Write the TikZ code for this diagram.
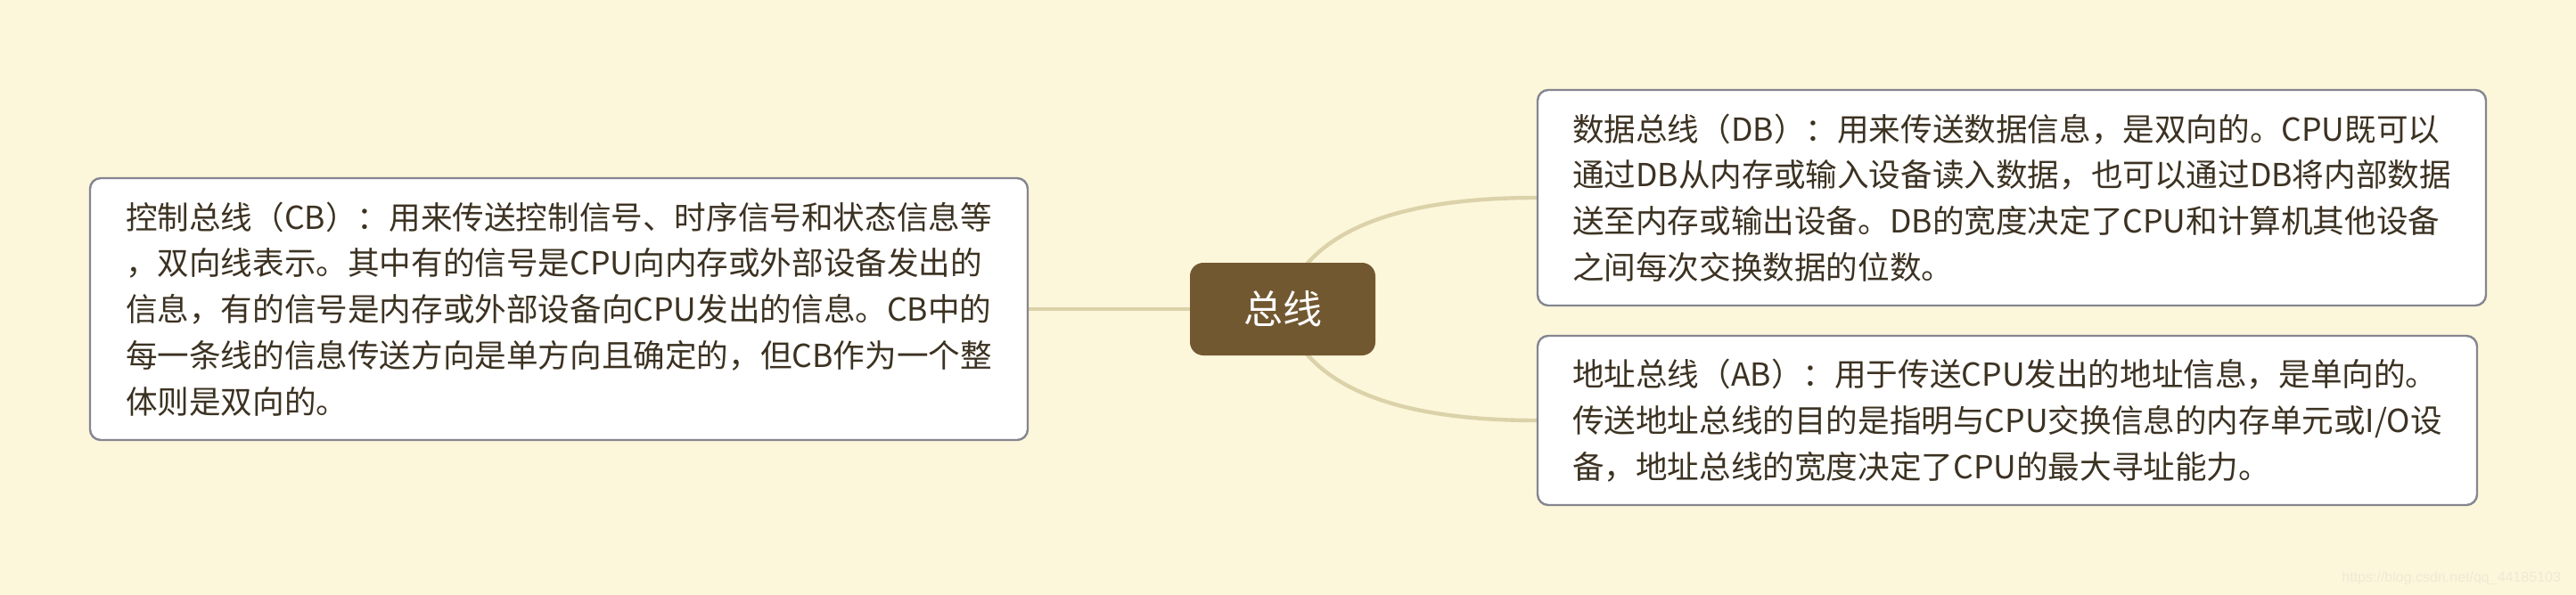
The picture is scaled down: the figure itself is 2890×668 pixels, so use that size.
\documentclass[tikz,border=0pt]{standalone}
\usepackage{fontspec}
\usepackage{tikz}
\usetikzlibrary{backgrounds}
\newfontfamily\cjkfont{Noto Sans CJK SC}
\newfontfamily\urlfont{Liberation Sans}
\definecolor{cream}{RGB}{252,247,218}
\definecolor{twig}{RGB}{220,210,170}
\definecolor{bark}{RGB}{114,88,49}
\definecolor{rim}{RGB}{133,134,145}
\definecolor{ink}{RGB}{60,50,34}
\definecolor{faint}{RGB}{238,234,214}

\begin{document}
\begin{tikzpicture}[x=0.5pt,y=-0.5pt,
        topic/.style={rectangle,rounded corners=7.5pt,fill=bark,text=white,
          font=\cjkfont\fontsize{22}{26}\selectfont,inner sep=0pt,
          minimum width=104pt,minimum height=52pt},
        leaf/.style={rectangle,rounded corners=6pt,draw=rim,line width=1.2pt,
          fill=white,text=ink,font=\cjkfont\fontsize{17.8}{25.9}\selectfont,
          align=left,inner sep=0pt},
        branch/.style={draw=twig,line width=2.2pt}]
        \useasboundingbox (0,0) rectangle (2890,668);
        % Central topic
        \node[topic] (bus) at (1439,347) {总线};
        % Left subtopic
        \node[leaf,minimum width=526pt,minimum height=147pt] (cb) at (627,347)
          {控制总线（CB）：用来传送控制信号、时序信号和状态信息等\\
           ，双向线表示。其中有的信号是CPU向内存或外部设备发出的\\
           信息，有的信号是内存或外部设备向CPU发出的信息。CB中的\\
           每一条线的信息传送方向是单方向且确定的，但CB作为一个整\\
           体则是双向的。};
        % Right subtopics
        \node[leaf,minimum width=532pt,minimum height=121pt] (db) at (2257,222)
          {数据总线（DB）：用来传送数据信息，是双向的。CPU既可以\\
           通过DB从内存或输入设备读入数据，也可以通过DB将内部数据\\
           送至内存或输出设备。DB的宽度决定了CPU和计算机其他设备\\
           之间每次交换数据的位数。};
        \node[leaf,minimum width=527pt,minimum height=95pt] (ab) at (2252,472)
          {地址总线（AB）：用于传送CPU发出的地址信息，是单向的。\\
           传送地址总线的目的是指明与CPU交换信息的内存单元或I/O设\\
           备，地址总线的宽度决定了CPU的最大寻址能力。};
        % Watermark
        \node[text=faint,font=\urlfont\fontsize{8}{10}\selectfont,anchor=east] (mark)
          at (2880,649) {https://blog.csdn.net/qq\_44185103};
        % Background and branches
        \begin{scope}[on background layer]
          \fill[cream] (0,0) rectangle (2890,668);
          \draw[branch] (bus.center) -- (cb.east);
          \draw[branch] (bus.center) .. controls +(23,-83) and +(-167,0) .. (db.west);
          \draw[branch] (bus.center) .. controls +(23,83) and +(-167,0) .. (ab.west);
        \end{scope}
      \end{tikzpicture}
\end{document}
